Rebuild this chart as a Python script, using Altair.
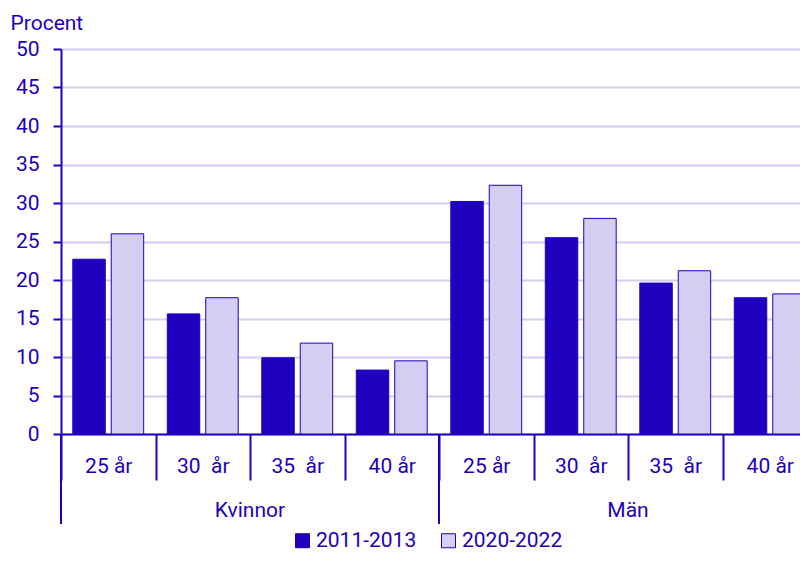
import altair as alt
import pandas as pd

genders = ["Kvinnor", "Kvinnor", "Kvinnor", "Kvinnor", "Män", "Män", "Män", "Män"]
ages = ["25 år", "30\u00a0 år", "35\u00a0 år", "40 år", "25 år", "30\u00a0 år", "35\u00a0 år", "40 år"]
periods = ["2011-2013", "2020-2022"]
v2011 = [22.7, 15.6, 9.9, 8.3, 30.2, 25.5, 19.6, 17.7]
v2020 = [26.0, 17.7, 11.8, 9.5, 32.3, 28.0, 21.2, 18.2]

DARK = "#1E00BE"
LIGHT = "#D3CEF2"
FONT = "Roboto"
FS = 21

keys = [f"{g}|{a}" for g, a in zip(genders, ages)]
rows = []
for k, g, a, x1, x2 in zip(keys, genders, ages, v2011, v2020):
    rows.append({"key": k, "gender": g, "age": a, "period": periods[0], "value": x1})
    rows.append({"key": k, "gender": g, "age": a, "period": periods[1], "value": x2})
df = pd.DataFrame(rows)

xscale = alt.Scale(domain=keys, paddingInner=0, paddingOuter=0, range=[0, 756])

bars = alt.Chart(df).mark_bar(stroke=DARK, strokeWidth=1).encode(
    x=alt.X("key:N", scale=xscale, title=None,
            axis=alt.Axis(labelExpr="split(datum.label, '|')[1]", labelAngle=0,
                          tickBand="extent", tickSize=46, tickColor=DARK, tickWidth=2,
                          domainColor=DARK, domainWidth=2, labelPadding=-8,
                          labelBaseline="alphabetic",
                          labelFont=FONT, labelFontSize=FS, labelColor=DARK)),
    xOffset=alt.XOffset("period:N", scale=alt.Scale(domain=periods, paddingInner=0.156, paddingOuter=0.307)),
    y=alt.Y("value:Q", scale=alt.Scale(domain=[0, 50]),
            axis=alt.Axis(values=list(range(0, 55, 5)), title="Procent", titleAngle=0,
                          titleAlign="left", titleBaseline="alphabetic", titleX=-51, titleY=-20,
                          titleFont=FONT, titleFontSize=FS, titleFontWeight="normal", titleColor=DARK,
                          labelFont=FONT, labelFontSize=FS, labelColor=DARK, labelPadding=14,
                          tickColor=DARK, tickSize=8, tickWidth=2,
                          domainColor=DARK, domainWidth=2,
                          grid=True, gridColor=LIGHT, gridWidth=2)),
    color=alt.Color("period:N", scale=alt.Scale(domain=periods, range=[DARK, LIGHT]),
                    legend=alt.Legend(title=None, orient="none", direction="horizontal",
                                      legendX=231, legendY=481, symbolType="square", symbolSize=196,
                                      symbolStrokeColor=DARK, symbolStrokeWidth=1,
                                      labelFont=FONT, labelFontSize=FS, labelColor=DARK,
                                      labelOffset=3, columnPadding=21)),
)

sep_df = pd.DataFrame({"key": [keys[0], keys[4]]})
seps = alt.Chart(sep_df).mark_rule(color=DARK, strokeWidth=2).encode(
    x=alt.X("key:N", scale=xscale, bandPosition=0),
    y=alt.value(385), y2=alt.value(475),
)

glab_df = pd.DataFrame({"key": [keys[1], keys[5]], "gender": ["Kvinnor", "Män"]})
glabs = alt.Chart(glab_df).mark_text(font=FONT, fontSize=FS, color=DARK, baseline="alphabetic").encode(
    x=alt.X("key:N", scale=xscale, bandPosition=1),
    y=alt.value(468),
    text="gender:N",
)

chart = alt.layer(bars, seps, glabs).properties(
    width=739, height=385,
    autosize=alt.AutoSizeParams(type="none"),
    padding={"left": 53, "top": 41, "right": 0, "bottom": 119},
).configure_view(stroke=None)

chart.save("out.html", embed_options={"renderer": "svg", "actions": False})
